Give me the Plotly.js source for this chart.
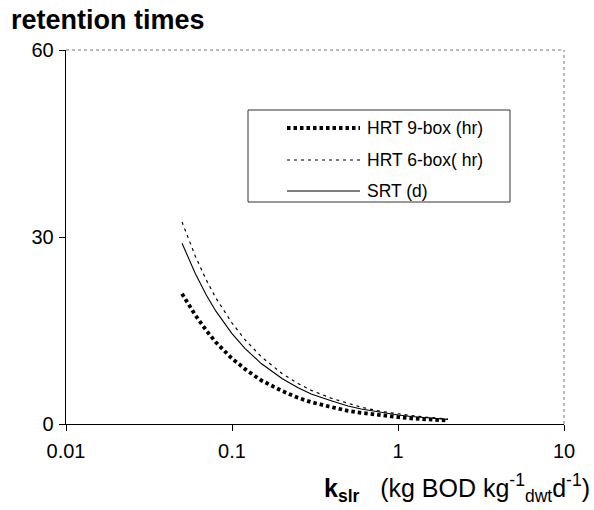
<!DOCTYPE html>
<html>
<head>
<meta charset="utf-8">
<script src="https://cdn.plot.ly/plotly-3.0.1.min.js"></script>
<style>
  html, body { margin: 0; padding: 0; background: #fff; }
  #chart { width: 594px; height: 510px; }
</style>
</head>
<body>
<div id="chart"></div>
<script>
// loading rate k_slr (kg BOD kg_dwt^-1 d^-1)
const kslr = [0.05, 0.06, 0.07, 0.08, 0.1, 0.12, 0.15, 0.2, 0.25, 0.3, 0.4, 0.5, 0.6, 0.8, 1.0, 1.2, 1.5, 2.0];
// retention times
const hrt9 = [20.9, 17.5, 15.0, 13.1, 10.5, 8.8, 7.0, 5.3, 4.2, 3.5, 2.7, 2.1, 1.8, 1.35, 1.1, 0.9, 0.72, 0.55];
const hrt6 = [32.4, 27.0, 23.1, 20.2, 16.2, 13.5, 10.8, 8.1, 6.5, 5.4, 4.1, 3.3, 2.7, 2.0, 1.6, 1.35, 1.08, 0.8];
const srt  = [29.0, 24.2, 20.7, 18.1, 14.5, 12.1, 9.7, 7.3, 5.8, 4.8, 3.7, 2.9, 2.4, 1.8, 1.45, 1.2, 0.97, 0.73];
const seriesNames = ["HRT 9-box (hr)", "HRT 6-box( hr)", "SRT (d)"];
const xTickVals = [0.01, 0.1, 1, 10];
const xTickText = ["0.01", "0.1", "1", "10"];
const yTickVals = [0, 30, 60];

const FONT = "Liberation Sans, Arial, sans-serif";
const styles = [
  {color: "#000", width: 3.8, dash: "3.5px,3px"},
  {color: "#000", width: 1.2, dash: "3px,4px"},
  {color: "#000", width: 1.1, dash: "solid"}
];
const ys = [hrt9, hrt6, srt];

const traces = ys.map((y, i) => ({
  x: kslr, y: y, type: "scatter", mode: "lines",
  name: seriesNames[i], line: styles[i], showlegend: false
}));

// custom legend (geometry in paper coords)
const L = 66, R = 564, T = 50, B = 424;
const px = v => (v - L) / (R - L);
const py = v => (B - v) / (B - T);
const legendRows = [128, 160, 191];
const shapes = [
  {type: "line", xref: "paper", yref: "paper", x0: 0, x1: 1, y0: 1, y1: 1, line: {color: "#777", width: 1, dash: "dot"}},
  {type: "line", xref: "paper", yref: "paper", x0: 1, x1: 1, y0: 0, y1: 1, line: {color: "#777", width: 1, dash: "dot"}},
  {type: "rect", xref: "paper", yref: "paper", x0: px(248), x1: px(510), y0: py(202), y1: py(110), line: {color: "#333", width: 1}, fillcolor: "#fff"}
];
const annotations = [];
legendRows.forEach((ry, i) => {
  shapes.push({type: "line", xref: "paper", yref: "paper", x0: px(287), x1: px(360), y0: py(ry), y1: py(ry), line: styles[i]});
  annotations.push({xref: "paper", yref: "paper", x: px(365), y: py(ry), xanchor: "left", yanchor: "middle",
    text: seriesNames[i], showarrow: false, font: {family: FONT, size: 17.5, color: "#000"}});
});
annotations.push({
  xref: "paper", yref: "paper", x: px(592), y: py(488), xanchor: "right", yanchor: "middle",
  text: "<b>k</b><sub><b>slr</b></sub>   (kg BOD kg<sup>-1</sup><sub>dwt</sub>d<sup>-1</sup>)",
  showarrow: false, font: {family: FONT, size: 25, color: "#000"}
});

const layout = {
  width: 594, height: 510,
  margin: {l: L, r: 594 - R, t: T, b: 510 - B},
  paper_bgcolor: "#fff", plot_bgcolor: "#fff",
  font: {family: FONT, color: "#000"},
  title: {text: "<b>retention times</b>", x: 11 / 594, xanchor: "left", y: 1 - 20 / 510, yanchor: "middle",
          font: {family: FONT, size: 27, color: "#000"}},
  xaxis: {
    type: "log", range: [-2, 1], tickvals: xTickVals, ticktext: xTickText,
    ticks: "outside", ticklen: 6, tickcolor: "#000", tickwidth: 1,
    showline: true, linecolor: "#000", linewidth: 1.3, showgrid: false, zeroline: false,
    tickfont: {family: FONT, size: 20, color: "#000"}, ticklabelstandoff: 3
  },
  yaxis: {
    range: [0, 60], tickvals: yTickVals,
    ticks: "outside", ticklen: 6, tickcolor: "#000", tickwidth: 1,
    showline: true, linecolor: "#000", linewidth: 1.3, showgrid: false, zeroline: false,
    tickfont: {family: FONT, size: 20, color: "#000"}, ticklabelstandoff: 1
  },
  showlegend: false,
  shapes: shapes,
  annotations: annotations
};

Plotly.newPlot("chart", traces, layout, {staticPlot: true, displayModeBar: false});
</script>
</body>
</html>
